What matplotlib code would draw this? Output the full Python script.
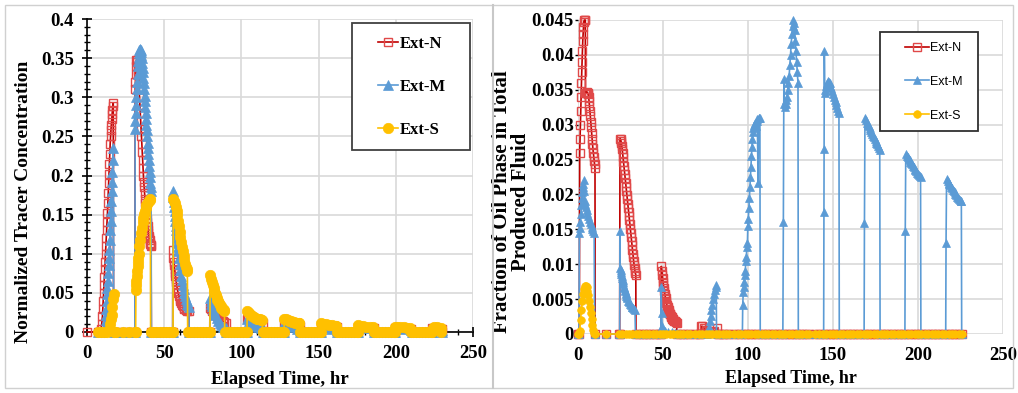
import matplotlib
matplotlib.use('Agg')
import matplotlib.pyplot as plt
from matplotlib.ticker import MultipleLocator, FormatStrFormatter
from matplotlib.patches import Rectangle
from matplotlib.lines import Line2D

# ---------------- left chart: normalized tracer concentration ----------------
# (time hr, value) points of each production pulse; zeros mark where a pulse starts/ends
left_n = [(0, 0),
          (8, 0), (9, 0.004), (9.5, 0.01), (10, 0.02), (10.25, 0.03), (10.5, 0.04), (10.75, 0.05), (11, 0.06),
          (11.25, 0.07), (11.5, 0.08), (11.75, 0.09), (12, 0.1), (12.25, 0.11), (12.5, 0.12), (12.75, 0.13),
          (13, 0.14), (13.25, 0.152), (13.5, 0.165), (13.75, 0.178), (14, 0.19), (14.25, 0.202), (14.5, 0.215),
          (14.75, 0.228), (15, 0.24), (15.25, 0.25), (15.5, 0.258), (15.75, 0.265), (16, 0.272),
          (16.25, 0.278), (16.5, 0.284), (16.75, 0.289), (17, 0.293), (17.2, 0),
          (31, 0), (31.2, 0.31), (31.4, 0.32), (31.6, 0.33), (31.8, 0.34), (32, 0.348), (32.25, 0.347),
          (32.5, 0.345), (32.75, 0.34), (33, 0.335), (33.25, 0.328), (33.5, 0.32), (33.75, 0.31), (34, 0.3),
          (34.25, 0.29), (34.5, 0.28), (34.75, 0.27), (35, 0.26), (35.25, 0.25), (35.5, 0.24), (35.75, 0.23),
          (36, 0.22), (36.25, 0.21), (36.5, 0.2), (36.75, 0.192), (37, 0.185), (37.25, 0.177), (37.5, 0.17),
          (37.75, 0.165), (38, 0.16), (38.25, 0.155), (38.5, 0.15), (38.75, 0.145), (39, 0.14),
          (39.25, 0.135), (39.5, 0.13), (39.75, 0.126), (40, 0.123), (40.25, 0.12), (40.5, 0.117),
          (40.75, 0.114), (41, 0.112), (41.25, 0.111), (41.5, 0.11), (41.7, 0),
          (55.5, 0), (55.6, 0.105), (56, 0.095), (56.25, 0.09), (56.5, 0.085), (56.75, 0.08), (57, 0.076),
          (57.25, 0.072), (57.5, 0.068), (57.75, 0.064), (58, 0.061), (58.5, 0.055), (59, 0.05), (59.5, 0.046),
          (60, 0.042), (60.5, 0.039), (61, 0.037), (61.5, 0.035), (62, 0.033), (62.5, 0.031), (63, 0.03),
          (64, 0.028), (65, 0.027), (66, 0.027), (66.2, 0),
          (79.5, 0), (79.6, 0.031), (80, 0.03), (81, 0.027), (82, 0.025), (83, 0.022), (84, 0.02), (85, 0.018),
          (86, 0.016), (87, 0.015), (88, 0.014), (89, 0.013), (90, 0.012), (90.2, 0),
          (103.5, 0), (103.6, 0.016), (104, 0.016), (106, 0.015), (108, 0.014), (110, 0.013), (112, 0.012),
          (114, 0.012), (114.2, 0),
          (127.5, 0), (127.6, 0.011), (130, 0.01), (133, 0.009), (136, 0.008), (138, 0.008), (138.2, 0),
          (151.5, 0), (151.6, 0.007), (155, 0.007), (158, 0.006), (162, 0.006), (162.2, 0),
          (175.5, 0), (175.6, 0.006), (180, 0.005), (186, 0.005), (186.2, 0),
          (199.5, 0), (199.6, 0.005), (204, 0.005), (210, 0.004), (210.2, 0),
          (223.5, 0), (223.6, 0.005), (227, 0.005), (230, 0.004), (230.2, 0)]

left_m = [(10, 0), (11, 0.003), (11.5, 0.008), (12, 0.015), (12.25, 0.022), (12.5, 0.03), (12.75, 0.039),
          (13, 0.048), (13.25, 0.056), (13.5, 0.065), (13.75, 0.075), (14, 0.085), (14.25, 0.095),
          (14.5, 0.105), (14.75, 0.118), (15, 0.13), (15.25, 0.142), (15.5, 0.155), (15.75, 0.168),
          (16, 0.18), (16.25, 0.192), (16.5, 0.205), (16.75, 0.22), (17, 0.235), (17.3, 0),
          (31, 0), (31.2, 0.26), (31.4, 0.27), (31.6, 0.28), (31.8, 0.29), (32, 0.3), (32.25, 0.31),
          (32.5, 0.32), (32.75, 0.33), (33, 0.34), (33.25, 0.346), (33.5, 0.352), (33.75, 0.356), (34, 0.36),
          (34.25, 0.361), (34.5, 0.362), (34.75, 0.36), (35, 0.358), (35.25, 0.354), (35.5, 0.35),
          (35.75, 0.344), (36, 0.338), (36.25, 0.332), (36.5, 0.325), (36.75, 0.318), (37, 0.31),
          (37.25, 0.302), (37.5, 0.295), (37.75, 0.288), (38, 0.28), (38.25, 0.272), (38.5, 0.265),
          (38.75, 0.258), (39, 0.25), (39.25, 0.242), (39.5, 0.235), (39.75, 0.228), (40, 0.22),
          (40.25, 0.212), (40.5, 0.205), (40.75, 0.198), (41, 0.19), (41.25, 0.185), (41.5, 0.18), (41.7, 0),
          (55.5, 0), (55.7, 0.18), (56, 0.172), (56.25, 0.166), (56.5, 0.16), (56.75, 0.154), (57, 0.148),
          (57.25, 0.142), (57.5, 0.136), (57.75, 0.13), (58, 0.125), (58.25, 0.12), (58.5, 0.114),
          (58.75, 0.109), (59, 0.104), (59.5, 0.095), (60, 0.087), (60.5, 0.079), (61, 0.072), (61.5, 0.066),
          (62, 0.06), (62.5, 0.055), (63, 0.05), (63.5, 0.046), (64, 0.042), (64.5, 0.039), (65, 0.036),
          (65.5, 0.034), (66, 0.032), (66.2, 0),
          (79.5, 0), (79.7, 0.043), (80, 0.04), (80.5, 0.036), (81, 0.033), (81.5, 0.03), (82, 0.027),
          (82.5, 0.024), (83, 0.022), (84, 0.018), (85, 0.014), (86, 0.011), (87, 0.009), (88, 0.007),
          (89, 0.006), (90, 0.005), (90.2, 0),
          (103.5, 0), (103.7, 0.017), (105, 0.014), (107, 0.011), (109, 0.008), (111, 0.006), (113, 0.005),
          (114, 0.004), (114.2, 0),
          (127.5, 0), (127.7, 0.012), (130, 0.009), (133, 0.006), (136, 0.004), (138, 0.003), (138.2, 0),
          (151.5, 0), (151.7, 0.009), (155, 0.006), (158, 0.004), (162, 0.003), (162.2, 0),
          (175.5, 0), (175.7, 0.007), (180, 0.005), (186, 0.003), (186.2, 0),
          (199.5, 0), (199.7, 0.006), (204, 0.004), (210, 0.003), (210.2, 0),
          (223.5, 0), (223.7, 0.005), (227, 0.004), (230, 0.003), (230.2, 0)]

left_s = [(13, 0), (14, 0.003), (15, 0.01), (15.5, 0.016), (16, 0.022), (16.5, 0.032), (17, 0.042),
          (17.5, 0.048), (17.6, 0),
          (31.5, 0), (31.7, 0.054), (31.85, 0.06), (32, 0.065), (32.25, 0.072), (32.5, 0.078), (32.75, 0.084),
          (33, 0.09), (33.25, 0.095), (33.5, 0.1), (34, 0.11), (34.5, 0.118), (35, 0.126), (35.5, 0.133),
          (36, 0.14), (36.5, 0.146), (37, 0.151), (37.5, 0.155), (38, 0.159), (38.5, 0.162), (39, 0.164),
          (39.5, 0.166), (40, 0.168), (40.5, 0.169), (41, 0.17), (41.2, 0),
          (55.7, 0), (55.9, 0.17), (56.5, 0.168), (57, 0.165), (57.5, 0.16), (58, 0.155), (58.5, 0.149),
          (59, 0.142), (59.5, 0.135), (60, 0.128), (60.5, 0.121), (61, 0.115), (61.5, 0.109), (62, 0.103),
          (62.5, 0.097), (63, 0.092), (63.5, 0.087), (64, 0.083), (64.5, 0.08), (65, 0.078), (65.2, 0),
          (79.6, 0), (79.8, 0.073), (80.5, 0.068), (81, 0.064), (81.5, 0.06), (82, 0.056), (82.5, 0.053),
          (83, 0.05), (83.5, 0.047), (84, 0.044), (84.5, 0.041), (85, 0.039), (85.5, 0.037), (86, 0.035),
          (86.5, 0.033), (87, 0.031), (87.5, 0.03), (88, 0.029), (88.5, 0.028), (89, 0.027), (89.2, 0),
          (103.6, 0), (103.8, 0.027), (104.5, 0.025), (105, 0.024), (106, 0.022), (107, 0.02), (108, 0.019),
          (109, 0.018), (110, 0.017), (111, 0.016), (112, 0.016), (113, 0.015), (113.5, 0.015), (113.7, 0),
          (127.6, 0), (127.8, 0.017), (129, 0.016), (130, 0.015), (131, 0.014), (132, 0.014), (133, 0.013),
          (134, 0.013), (135, 0.012), (136, 0.012), (137, 0.011), (137.5, 0.011), (137.7, 0),
          (151.6, 0), (151.8, 0.011), (153, 0.01), (155, 0.01), (157, 0.009), (159, 0.009), (161, 0.008),
          (161.5, 0.008), (161.7, 0),
          (175.6, 0), (175.8, 0.009), (177, 0.008), (179, 0.008), (181, 0.007), (183, 0.007), (185, 0.006),
          (185.7, 0),
          (199.6, 0), (199.8, 0.007), (201, 0.007), (203, 0.006), (205, 0.006), (207, 0.005), (209, 0.005),
          (209.7, 0),
          (223.6, 0), (223.8, 0.005), (225, 0.006), (227, 0.006), (229, 0.005), (229.5, 0)]

# sampling times where the wells read zero (shut-in periods)
left_base = [7, 9, 11, 19, 23, 27, 31, 43, 45, 47, 49, 51, 53, 55, 67, 69, 71, 73, 75, 77, 79,
             91, 93, 95, 97, 99, 101, 103, 115, 117, 119, 121, 123, 125, 127, 139, 141, 143, 145, 147,
             149, 151, 163, 165, 167, 169, 171, 173, 175, 187, 189, 191, 193, 195, 197, 199, 211, 213,
             215, 217, 219, 221, 223]

# ---------------- right chart: oil fraction in produced fluid ----------------
right_n = [(0.8, 0), (1, 0.026), (1.2, 0.028), (1.4, 0.03), (1.6, 0.032), (1.8, 0.034), (2, 0.036),
           (2.2, 0.0375), (2.4, 0.039), (2.6, 0.0405), (2.8, 0.042), (3, 0.043), (3.2, 0.044), (3.4, 0.0447),
           (3.7, 0.045), (4, 0.045), (4.3, 0.045), (4.4, 0.0345), (4.7, 0.0345), (5, 0.0346), (5.3, 0.0347),
           (5.6, 0.0346), (5.9, 0.0344), (6.2, 0.034), (6.5, 0.0334), (6.75, 0.0327), (7, 0.032),
           (7.25, 0.0312), (7.5, 0.0304), (7.75, 0.0296), (8, 0.0288), (8.25, 0.028), (8.5, 0.0273),
           (8.75, 0.0266), (9, 0.026), (9.25, 0.0254), (9.5, 0.0248), (9.75, 0.0243), (10, 0.0238), (10.1, 0),
           (24.5, 0), (24.7, 0.028), (25, 0.0279), (25.25, 0.0277), (25.5, 0.0274), (25.75, 0.027),
           (26, 0.0265), (26.25, 0.0259), (26.5, 0.0253), (26.75, 0.0247), (27, 0.0241), (27.25, 0.0235),
           (27.5, 0.0229), (27.75, 0.0223), (28, 0.0217), (28.25, 0.0211), (28.5, 0.0205), (28.75, 0.0199),
           (29, 0.0193), (29.25, 0.0187), (29.5, 0.0181), (29.75, 0.0175), (30, 0.0169), (30.25, 0.0163),
           (30.5, 0.0157), (30.75, 0.0151), (31, 0.0145), (31.25, 0.0139), (31.5, 0.0133), (31.75, 0.0127),
           (32, 0.0121), (32.25, 0.0115), (32.5, 0.011), (32.75, 0.0104), (33, 0.0099), (33.25, 0.0094),
           (33.5, 0.009), (33.75, 0.0087), (34, 0.0085), (34.1, 0),
           (48.8, 0), (49, 0.0097), (49.25, 0.0091), (49.5, 0.0085), (49.75, 0.008), (50, 0.0075),
           (50.25, 0.007), (50.5, 0.0066), (50.75, 0.0062), (51, 0.0058), (51.25, 0.0054), (51.5, 0.0051),
           (51.75, 0.0048), (52, 0.0045), (52.25, 0.0042), (52.5, 0.004), (52.75, 0.0038), (53, 0.0036),
           (53.25, 0.0034), (53.5, 0.0032), (53.75, 0.003), (54, 0.0029), (54.25, 0.0028), (54.5, 0.0026),
           (54.75, 0.0025), (55, 0.0024), (55.25, 0.0023), (55.5, 0.0022), (55.75, 0.0021), (56, 0.002),
           (56.5, 0.0019), (57, 0.0018), (57.5, 0.0017), (58, 0.0016), (58.2, 0),
           (72, 0), (72.5, 0.0011), (73.2, 0.0011), (74, 0.0009), (75, 0.0006), (76, 0.0004), (78, 0.0003),
           (80, 0.0004), (82, 0.0008), (82.5, 0)]

right_m = [(0.6, 0), (0.8, 0.0145), (1.1, 0.0152), (1.4, 0.016), (1.7, 0.0172), (2, 0.0185), (2.3, 0.0195),
           (2.6, 0.0204), (2.9, 0.021), (3.2, 0.0215), (3.5, 0.022), (3.8, 0.0205), (4, 0.019), (4.3, 0.0186),
           (4.6, 0.0182), (5, 0.0178), (5.5, 0.0173), (6, 0.0169), (6.5, 0.0165), (7, 0.0161), (7.5, 0.0157),
           (8, 0.0154), (8.5, 0.015), (9, 0.0147), (9.5, 0.0145), (9.8, 0),
           (24.5, 0), (24.7, 0.0147), (24.8, 0.0095), (25, 0.0092), (25.25, 0.0089), (25.5, 0.0086),
           (25.75, 0.0083), (26, 0.008), (26.25, 0.0077), (26.5, 0.0074), (26.75, 0.0071), (27, 0.0068),
           (27.25, 0.0066), (27.5, 0.0063), (27.75, 0.0061), (28, 0.0059), (28.25, 0.0057), (28.5, 0.0055),
           (28.75, 0.0053), (29, 0.0051), (29.5, 0.0048), (30, 0.0046), (30.5, 0.0043), (31, 0.0041),
           (31.5, 0.0039), (32, 0.0038), (32.5, 0.0037), (33, 0.0036), (33.5, 0.0035), (33.8, 0),
           (48.7, 0), (48.9, 0.0068), (49.2, 0.003), (49.5, 0.0012), (50, 0.0006), (51, 0.0004), (53, 0.0003),
           (55, 0.0003), (57, 0.0002), (58, 0.0002), (58.2, 0),
           (76, 0), (76.5, 0.0004), (77, 0.001), (77.5, 0.0018), (78, 0.0026), (78.5, 0.0034), (79, 0.0042),
           (79.5, 0.005), (80, 0.0057), (80.5, 0.0063), (81, 0.0068), (81.3, 0.007), (81.5, 0),
           (96.7, 0), (96.9, 0.0042), (97.2, 0.006), (97.5, 0.0075), (97.8, 0.0068), (98.1, 0.009),
           (98.4, 0.0085), (98.7, 0.011), (99, 0.0105), (99.3, 0.013), (99.6, 0.0125), (99.9, 0.0155),
           (100.2, 0.0165), (100.5, 0.018), (100.8, 0.0195), (101.1, 0.021), (101.4, 0.0225), (101.7, 0.024),
           (102, 0.0255), (102.3, 0.0268), (102.6, 0.028), (102.9, 0.029), (103.2, 0.0295), (103.5, 0.03),
           (104, 0.0302), (104.5, 0.0298), (105, 0.0305), (105.5, 0.0308), (105.9, 0.0217), (106.2, 0.031),
           (106.6, 0.031), (107, 0.031), (107.2, 0),
           (120.5, 0), (120.8, 0.016), (121.1, 0.0365), (121.4, 0.033), (121.8, 0.0325), (122.2, 0.033),
           (122.6, 0.0335), (123, 0.034), (123.4, 0.035), (123.8, 0.036), (124.2, 0.037), (124.6, 0.0385),
           (125, 0.04), (125.4, 0.0415), (125.8, 0.043), (126.2, 0.0442), (126.6, 0.045), (127, 0.0445),
           (127.4, 0.0435), (127.8, 0.042), (128.2, 0.0405), (128.6, 0.039), (129, 0.0375), (129.4, 0.036),
           (129.6, 0),
           (144.5, 0), (144.7, 0.0175), (144.8, 0.0265), (144.9, 0.0405), (145.1, 0.035), (145.5, 0.0345),
           (146, 0.0355), (146.5, 0.036), (147, 0.0362), (147.5, 0.0361), (148, 0.036), (148.5, 0.0356),
           (149, 0.0352), (149.5, 0.0348), (150, 0.0344), (150.5, 0.034), (151, 0.0336), (151.5, 0.0332),
           (152, 0.0328), (152.5, 0.0324), (153, 0.032), (153.5, 0.0317), (153.7, 0),
           (168.3, 0), (168.5, 0.0159), (168.8, 0.031), (169.5, 0.0306), (170, 0.0303), (170.5, 0.03),
           (171, 0.0298), (171.5, 0.0295), (172, 0.0292), (172.5, 0.029), (173, 0.0287), (173.5, 0.0284),
           (174, 0.0282), (174.5, 0.028), (175, 0.0277), (175.5, 0.0274), (176, 0.0272), (176.5, 0.0269),
           (177, 0.0267), (177.5, 0.0264), (177.7, 0),
           (192.3, 0), (192.5, 0.0147), (192.8, 0.0258), (193.5, 0.0255), (194, 0.0253), (194.5, 0.0251),
           (195, 0.0249), (195.5, 0.0247), (196, 0.0245), (196.5, 0.0243), (197, 0.0241), (197.5, 0.0239),
           (198, 0.0237), (198.5, 0.0235), (199, 0.0233), (199.5, 0.0231), (200, 0.0229), (200.5, 0.0228),
           (201, 0.0226), (201.5, 0.0225), (201.7, 0),
           (216.3, 0), (216.5, 0.0131), (216.8, 0.0222), (217.5, 0.0219), (218, 0.0217), (218.5, 0.0215),
           (219, 0.0213), (219.5, 0.0211), (220, 0.0209), (220.5, 0.0207), (221, 0.0205), (221.5, 0.0203),
           (222, 0.0201), (222.5, 0.0199), (223, 0.0197), (223.5, 0.0195), (224, 0.0194), (224.5, 0.0192),
           (225, 0.0191), (225.5, 0.019), (225.7, 0)]

right_s = [(0.5, 0), (1, 0.0005), (1.5, 0.002), (2, 0.0035), (2.5, 0.0048), (3, 0.0058), (3.5, 0.0065),
           (4, 0.0069), (4.5, 0.0069), (5, 0.0067), (5.5, 0.0062), (6, 0.0056), (6.5, 0.0048), (7, 0.0039),
           (7.5, 0.003), (8, 0.0021), (8.5, 0.0013), (9, 0.0006), (9.5, 0.0002), (10, 0)]

right_base = [0, 10, 16.5, 24, 26, 28, 30, 32, 34, 36, 38, 40, 42, 44, 46, 48, 50, 52, 54, 56, 58, 60, 62,
              64, 66, 69, 71, 73, 75, 77, 79, 81, 83, 85, 87, 89, 91.5, 94, 96, 98, 100, 102, 104, 106,
              108, 110, 112, 114, 116, 118, 120, 122, 124, 126, 128, 130, 132, 134, 136, 139.5, 142, 144,
              146, 148, 150, 152, 154, 156, 158, 160, 162, 164, 166, 168, 170, 172, 174, 176, 178, 180,
              182, 184, 186, 188, 190, 192, 194, 196, 198, 200, 202, 204, 206, 208, 210, 212, 214, 216,
              218, 220, 222, 224, 226]

labels = ['Ext-N', 'Ext-M', 'Ext-S']


def merge(pts, base):
    # add the zero readings of the shut-in samples that fall outside this well's pulses
    spans = []
    start = None
    for i, (t, y) in enumerate(pts):
        if y == 0 and i + 1 < len(pts) and pts[i + 1][1] > 0:
            start = t
        if y == 0 and i > 0 and pts[i - 1][1] > 0:
            spans.append((start, t))
    keep = [(b, 0.0) for b in base if not any(s <= b <= e for s, e in spans)]
    allp = sorted(pts + keep)
    return [p[0] for p in allp], [p[1] for p in allp]


styles = [dict(color='#C00000', marker='s', mfc='none', mec='#E04848', mew=1.0),
          dict(color='#5B9BD5', marker='^', mfc='#5B9BD5', mec='#5B9BD5', mew=0.5),
          dict(color='#FFC000', marker='o', mfc='#FFC000', mec='#FFC000', mew=0.5)]

serif = 'Liberation Serif'
plt.rcParams['font.family'] = serif

fig = plt.figure(figsize=(10.18, 3.93), dpi=100)

# panel frames
fig.add_artist(Rectangle((5 / 1018, 5 / 393), 1008 / 1018, 383 / 393, transform=fig.transFigure,
                         fill=False, ec='#D0D0D0', lw=1.0))
fig.add_artist(Line2D([493 / 1018, 493 / 1018], [5 / 393, 388 / 393], transform=fig.transFigure,
                      color='#C8C8C8', lw=1.5))

# ---------- left ----------
ax1 = fig.add_axes([87 / 1018, 61 / 393, 386 / 1018, 313 / 393])
sizes1 = [6, 6.5, 7.5]
handles = []
for pts, lab, st, ms in zip([left_n, left_m, left_s], labels, styles, sizes1):
    t, y = merge(pts, left_base)
    h, = ax1.plot(t, y, lw=1.2, ms=ms, label=lab, clip_on=False, **st)
    handles.append(h)

ax1.set_xlim(0, 250)
ax1.set_ylim(0, 0.4)
ax1.xaxis.set_major_locator(MultipleLocator(50))
ax1.xaxis.set_minor_locator(MultipleLocator(10))
ax1.yaxis.set_major_locator(MultipleLocator(0.05))
ax1.yaxis.set_minor_locator(MultipleLocator(0.01))
ax1.yaxis.set_major_formatter(FormatStrFormatter('%g'))
ax1.grid(True, which='major', color='#D9D9D9', lw=1.2)
ax1.set_axisbelow(True)
for s in ['top', 'right']:
    ax1.spines[s].set_visible(False)
for s in ['left', 'bottom']:
    ax1.spines[s].set_color('black')
    ax1.spines[s].set_linewidth(1.2)
    ax1.spines[s].set_zorder(1.5)
ax1.tick_params(which='major', direction='inout', length=7, width=1.2, color='black',
                labelsize=13.5, pad=6)
ax1.tick_params(which='minor', direction='inout', length=4, width=1.0, color='black')
for lbl in ax1.get_xticklabels() + ax1.get_yticklabels():
    lbl.set_fontweight('bold')
ax1.set_xlabel('Elapsed Time, hr', fontsize=13.5, fontweight='bold', labelpad=6)
ax1.set_ylabel('Normalized Tracer Concentration', fontsize=14, fontweight='bold')
ax1.yaxis.set_label_coords(-0.142, 0.415)

ax1.add_patch(Rectangle((0.687, 0.581), 0.305, 0.406, transform=ax1.transAxes, fc='white',
                        ec='#404040', lw=1.3, zorder=4, clip_on=False))
ax1.legend(handles=handles, loc='upper left', bbox_to_anchor=(0.753, 0.945), frameon=False,
           prop=dict(family=serif, weight='bold', size=12), borderpad=0, labelspacing=1.6,
           handlelength=1.2, handletextpad=0.1, numpoints=1, borderaxespad=0)

# ---------- right ----------
ax2 = fig.add_axes([578 / 1018, 59 / 393, 425 / 1018, 314 / 393])
sizes2 = [6, 5.5, 5.5]
handles = []
for pts, lab, st, ms in zip([right_n, right_m, right_s], labels, styles, sizes2):
    t, y = merge(pts, right_base)
    h, = ax2.plot(t, y, lw=1.2, ms=ms, label=lab, clip_on=False, **st)
    handles.append(h)

ax2.set_xlim(0, 250)
ax2.set_ylim(0, 0.045)
ax2.xaxis.set_major_locator(MultipleLocator(50))
ax2.yaxis.set_major_locator(MultipleLocator(0.005))
ax2.yaxis.set_major_formatter(FormatStrFormatter('%g'))
ax2.grid(True, color='#D9D9D9', lw=1.2)
ax2.set_axisbelow(True)
for s in ax2.spines.values():
    s.set_visible(False)
ax2.tick_params(axis='y', length=2, width=1, color='black', labelsize=13.5, pad=1)
ax2.tick_params(axis='x', length=0, labelsize=13.5, pad=9)
for lbl in ax2.get_xticklabels() + ax2.get_yticklabels():
    lbl.set_fontweight('bold')
ax2.set_xlabel('Elapsed Time, hr', fontsize=13, fontweight='bold', labelpad=5)
ax2.set_ylabel('Fraction of Oil Phase in Total\nProduced Fluid', fontsize=15, fontweight='bold',
               linespacing=0.95)
ax2.yaxis.set_label_coords(-0.111, 0.42)

ax2.add_patch(Rectangle((0.711, 0.6465), 0.23, 0.3155, transform=ax2.transAxes, fc='white',
                        ec='#303030', lw=1.3, zorder=4, clip_on=False))
ax2.legend(handles=handles, loc='upper left', bbox_to_anchor=(0.769, 0.93), frameon=False,
           prop=dict(family=['Liberation Sans Narrow', 'Liberation Sans'], size=9), borderpad=0,
           labelspacing=1.75, handlelength=1.9, handletextpad=0.1, numpoints=1, borderaxespad=0)

fig.savefig('out.png', dpi=100)
